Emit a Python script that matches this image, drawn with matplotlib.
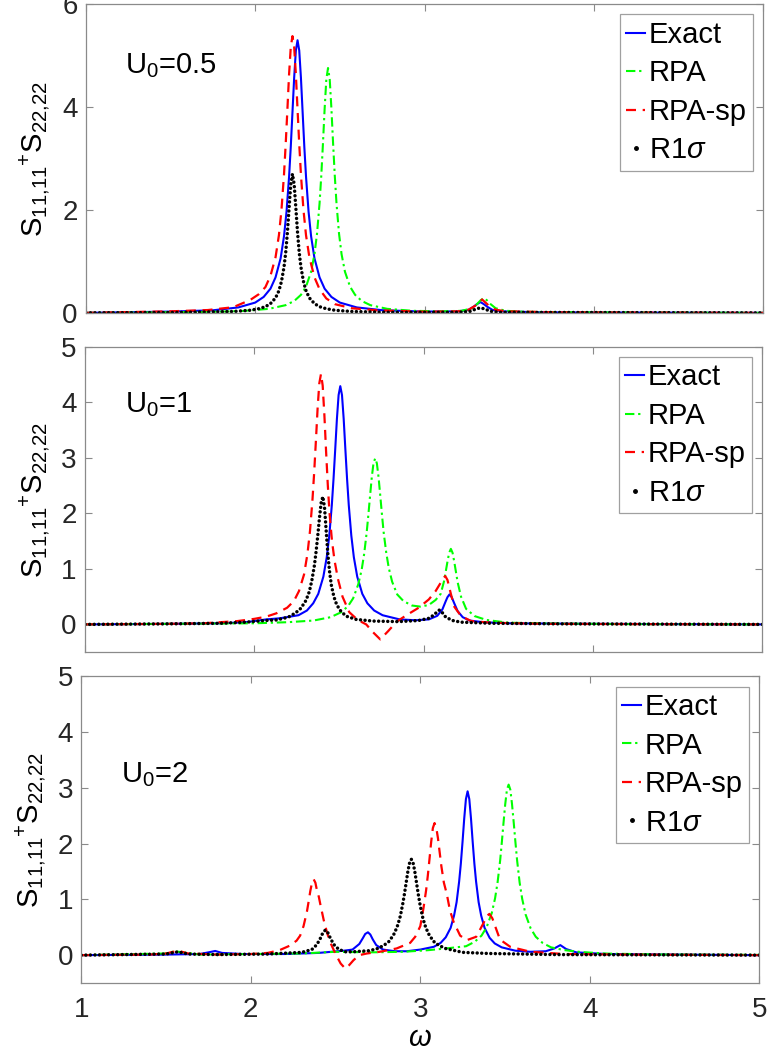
import matplotlib
matplotlib.use('Agg')
import matplotlib.pyplot as plt
from matplotlib.lines import Line2D

plt.rcParams['font.family'] = ['Liberation Sans', 'DejaVu Sans']
plt.rcParams['mathtext.fontset'] = 'custom'
plt.rcParams['mathtext.rm'] = 'Liberation Sans'
plt.rcParams['mathtext.it'] = 'Liberation Sans:italic'

labels = ['Exact', 'RPA', 'RPA-sp', r'R1$\sigma$']
panel_titles = [r'U$_0$=0.5', r'U$_0$=1', r'U$_0$=2']
ylabel = r'S$_{11{,}11}$$^{+}$S$_{22{,}22}$'

# ---- U0 = 0.5 ----
w_exact_1 = [1.0, 1.5, 1.75, 1.9, 2.0, 2.05, 2.09, 2.12, 2.15, 2.17, 2.185, 2.2, 2.21, 2.22, 2.23, 2.24, 2.25, 2.26,
             2.27, 2.28, 2.29, 2.3, 2.315, 2.33, 2.35, 2.38, 2.41, 2.45, 2.5, 2.6, 2.75, 3.0, 3.2, 3.26, 3.29, 3.31,
             3.33, 3.35, 3.37, 3.4, 3.46, 3.7, 5.0]
s_exact_1 = [0.0, 0.025, 0.05, 0.106, 0.2, 0.31, 0.47, 0.69, 1.06, 1.49, 1.97, 2.65, 3.23, 3.9, 4.57, 5.1, 5.3, 5.1,
             4.57, 3.9, 3.23, 2.65, 1.97, 1.49, 1.06, 0.69, 0.47, 0.31, 0.2, 0.106, 0.052, 0.025, 0.03, 0.06, 0.12, 0.17,
             0.21, 0.17, 0.12, 0.06, 0.03, 0.01, 0.0]
w_rpa_1 = [1.0, 1.5, 1.8, 1.93, 2.08, 2.18, 2.23, 2.27, 2.3, 2.33, 2.35, 2.365, 2.38, 2.39, 2.4, 2.41, 2.42, 2.43, 2.44,
           2.45, 2.46, 2.47, 2.48, 2.495, 2.51, 2.53, 2.56, 2.59, 2.63, 2.68, 2.78, 2.93, 3.1, 3.22, 3.28, 3.31, 3.33,
           3.35, 3.37, 3.39, 3.42, 3.48, 3.6, 4.0, 5.0]
s_rpa_1 = [0.0, 0.012, 0.024, 0.038, 0.078, 0.15, 0.23, 0.35, 0.51, 0.8, 1.14, 1.54, 2.13, 2.66, 3.29, 3.97, 4.54, 4.76,
           4.54, 3.97, 3.29, 2.66, 2.13, 1.54, 1.14, 0.8, 0.51, 0.35, 0.23, 0.15, 0.078, 0.04, 0.03, 0.04, 0.09, 0.17,
           0.24, 0.29, 0.24, 0.17, 0.09, 0.04, 0.02, 0.01, 0.0]
w_rpasp_1 = [1.0, 1.5, 1.72, 1.87, 1.97, 2.02, 2.06, 2.09, 2.12, 2.14, 2.155, 2.17, 2.18, 2.19, 2.2, 2.21, 2.22, 2.23,
             2.24, 2.25, 2.26, 2.27, 2.285, 2.3, 2.32, 2.35, 2.38, 2.42, 2.47, 2.57, 2.72, 3.0, 3.2, 3.26, 3.3, 3.32,
             3.34, 3.36, 3.38, 3.42, 3.48, 3.8, 5.0]
s_rpasp_1 = [0.0, 0.03, 0.055, 0.11, 0.25, 0.36, 0.5, 0.72, 1.08, 1.51, 2.0, 2.69, 3.28, 3.95, 4.64, 5.17, 5.38, 5.17,
             4.64, 3.95, 3.28, 2.69, 2.0, 1.51, 1.08, 0.69, 0.46, 0.28, 0.17, 0.09, 0.05, 0.022, 0.03, 0.06, 0.14, 0.2,
             0.26, 0.2, 0.14, 0.06, 0.03, 0.01, 0.0]
w_r1s_1 = [1.0, 1.5, 1.87, 1.97, 2.02, 2.06, 2.09, 2.12, 2.14, 2.155, 2.17, 2.18, 2.19, 2.2, 2.21, 2.22, 2.23, 2.24,
           2.25, 2.26, 2.27, 2.285, 2.3, 2.32, 2.35, 2.38, 2.42, 2.47, 2.57, 2.8, 3.2, 3.27, 3.3, 3.33, 3.36, 3.39,
           3.45, 5.0]
s_r1s_1 = [0.0, 0.006, 0.027, 0.051, 0.08, 0.12, 0.18, 0.29, 0.43, 0.61, 0.89, 1.17, 1.56, 2.04, 2.5, 2.7, 2.5, 2.04,
           1.56, 1.17, 0.89, 0.61, 0.43, 0.29, 0.18, 0.12, 0.08, 0.051, 0.027, 0.01, 0.01, 0.03, 0.07, 0.1, 0.07, 0.03,
           0.01, 0.0]

# ---- U0 = 1 ----
w_exact_2 = [1.0, 1.5, 1.8, 1.95, 2.07, 2.15, 2.26, 2.31, 2.347, 2.377, 2.407, 2.427, 2.442, 2.457, 2.467, 2.477, 2.487,
             2.497, 2.507, 2.517, 2.527, 2.537, 2.547, 2.557, 2.572, 2.587, 2.607, 2.637, 2.667, 2.707, 2.757, 2.857,
             2.95, 3.03, 3.08, 3.11, 3.13, 3.14, 3.152, 3.165, 3.18, 3.2, 3.23, 3.27, 3.35, 3.5, 4.0, 5.0]
s_exact_2 = [0.0, 0.01, 0.02, 0.04, 0.09, 0.11, 0.165, 0.25, 0.38, 0.55, 0.86, 1.21, 1.6, 2.15, 2.62, 3.15, 3.7, 4.13,
             4.29, 4.13, 3.7, 3.15, 2.62, 2.15, 1.6, 1.21, 0.86, 0.55, 0.38, 0.25, 0.165, 0.09, 0.075, 0.09, 0.155,
             0.27, 0.42, 0.49, 0.54, 0.49, 0.38, 0.24, 0.13, 0.07, 0.04, 0.02, 0.01, 0.0]
w_rpa_2 = [1.0, 1.5, 2.0, 2.2, 2.35, 2.45, 2.513, 2.553, 2.583, 2.613, 2.633, 2.648, 2.663, 2.673, 2.683, 2.693, 2.703,
           2.713, 2.723, 2.733, 2.743, 2.753, 2.763, 2.778, 2.793, 2.813, 2.843, 2.88, 2.93, 2.98, 3.03, 3.07, 3.1,
           3.12, 3.14, 3.15, 3.16, 3.17, 3.18, 3.2, 3.22, 3.25, 3.3, 3.37, 3.5, 3.8, 4.2, 5.0]
s_rpa_2 = [0.0, 0.01, 0.02, 0.04, 0.07, 0.13, 0.22, 0.33, 0.47, 0.72, 0.98, 1.27, 1.66, 1.98, 2.32, 2.65, 2.9, 2.99,
           2.9, 2.65, 2.32, 1.98, 1.66, 1.3, 1.02, 0.77, 0.54, 0.42, 0.34, 0.32, 0.35, 0.44, 0.55, 0.78, 1.13, 1.29,
           1.36, 1.29, 1.13, 0.76, 0.5, 0.28, 0.15, 0.08, 0.03, 0.015, 0.005, 0.0]
w_rpasp_2 = [1.0, 1.5, 1.7, 1.9, 2.0, 2.07, 2.13, 2.193, 2.233, 2.263, 2.293, 2.313, 2.328, 2.343, 2.353, 2.363, 2.373,
             2.383, 2.393, 2.403, 2.413, 2.423, 2.433, 2.443, 2.458, 2.473, 2.493, 2.52, 2.56, 2.61, 2.66, 2.7, 2.743,
             2.79, 2.84, 2.9, 2.97, 3.03, 3.07, 3.1, 3.115, 3.127, 3.14, 3.16, 3.18, 3.22, 3.28, 3.4, 3.7, 5.0]
s_rpasp_2 = [0.0, 0.01, 0.02, 0.06, 0.1, 0.14, 0.2, 0.3, 0.42, 0.6, 0.9, 1.27, 1.68, 2.26, 2.75, 3.31, 3.89, 4.34,
             4.51, 4.3, 3.77, 3.12, 2.52, 2.02, 1.5, 1.15, 0.82, 0.5, 0.22, 0.08, 0.0, -0.14, -0.27, -0.12, 0.05,
             0.17, 0.3, 0.45, 0.6, 0.75, 0.83, 0.87, 0.8, 0.55, 0.32, 0.15, 0.06, 0.03, 0.01, 0.0]
w_r1s_2 = [1.0, 1.5, 1.8, 1.95, 2.06, 2.13, 2.2, 2.244, 2.274, 2.304, 2.324, 2.339, 2.354, 2.364, 2.374, 2.384, 2.394,
           2.404, 2.414, 2.424, 2.434, 2.444, 2.454, 2.469, 2.484, 2.504, 2.54, 2.6, 2.7, 2.85, 2.97, 3.03, 3.06, 3.08,
           3.093, 3.11, 3.13, 3.17, 3.22, 3.4, 3.8, 5.0]
s_r1s_2 = [0.0, 0.01, 0.02, 0.04, 0.07, 0.08, 0.13, 0.21, 0.29, 0.43, 0.59, 0.79, 1.06, 1.31, 1.6, 1.92, 2.19, 2.3,
           2.1, 1.67, 1.25, 0.94, 0.71, 0.5, 0.37, 0.26, 0.15, 0.09, 0.06, 0.05, 0.07, 0.11, 0.17, 0.23, 0.26, 0.21,
           0.13, 0.07, 0.04, 0.02, 0.01, 0.0]

# ---- U0 = 2 ----
w_exact_3 = [1.0, 1.5, 1.7, 1.75, 1.79, 1.83, 1.95, 2.2, 2.4, 2.55, 2.6, 2.64, 2.66, 2.675, 2.691, 2.705, 2.72, 2.74,
             2.78, 2.85, 2.92, 3.0, 3.08, 3.12, 3.15, 3.179, 3.199, 3.214, 3.229, 3.239, 3.249, 3.259, 3.269, 3.279,
             3.289, 3.299, 3.309, 3.319, 3.329, 3.344, 3.359, 3.379, 3.409, 3.439, 3.48, 3.56, 3.65, 3.74, 3.79,
             3.826, 3.86, 3.92, 4.1, 4.5, 5.0]
s_exact_3 = [0.0, 0.01, 0.02, 0.05, 0.075, 0.04, 0.02, 0.02, 0.04, 0.08, 0.1, 0.2, 0.3, 0.38, 0.41, 0.37, 0.28, 0.18,
             0.1, 0.07, 0.07, 0.1, 0.15, 0.22, 0.32, 0.49, 0.71, 0.95, 1.32, 1.64, 2.03, 2.45, 2.8, 2.94, 2.8, 2.45,
             2.03, 1.64, 1.32, 0.95, 0.71, 0.49, 0.31, 0.21, 0.14, 0.08, 0.06, 0.07, 0.12, 0.18, 0.11, 0.05, 0.02, 0.01,
             0.0]
w_rpa_3 = [1.0, 1.5, 1.55, 1.6, 1.7, 2.0, 2.3, 2.5, 2.7, 2.9, 3.05, 3.15, 3.27, 3.321, 3.361, 3.391, 3.421, 3.441,
           3.456, 3.471, 3.481, 3.491, 3.501, 3.511, 3.521, 3.531, 3.541, 3.551, 3.561, 3.571, 3.586, 3.601, 3.621,
           3.651, 3.681, 3.721, 3.771, 3.85, 3.95, 4.1, 4.4, 5.0]
s_rpa_3 = [0.0, 0.03, 0.07, 0.05, 0.01, 0.02, 0.03, 0.06, 0.05, 0.06, 0.09, 0.12, 0.16, 0.24, 0.35, 0.5, 0.75, 1.02,
           1.31, 1.7, 2.03, 2.38, 2.71, 2.97, 3.06, 2.97, 2.71, 2.38, 2.03, 1.7, 1.3, 1.01, 0.73, 0.48, 0.33, 0.22,
           0.14, 0.09, 0.055, 0.028, 0.012, 0.005]
w_rpasp_3 = [1.0, 1.4, 1.5, 1.57, 1.63, 1.8, 2.0, 2.1, 2.17, 2.23, 2.27, 2.291, 2.311, 2.331, 2.341, 2.351, 2.361,
             2.371, 2.381, 2.391, 2.401, 2.411, 2.43, 2.45, 2.47, 2.5, 2.53, 2.557, 2.58, 2.606, 2.64, 2.685, 2.76,
             2.86, 2.94, 2.97, 3.0, 3.019, 3.034, 3.044, 3.054, 3.064, 3.074, 3.084, 3.094, 3.104, 3.114, 3.124,
             3.139, 3.156, 3.175, 3.196, 3.235, 3.275, 3.33, 3.37, 3.395, 3.408, 3.425, 3.445, 3.47, 3.53, 3.65,
             3.85, 4.2, 5.0]
s_rpasp_3 = [0.0, 0.01, 0.03, 0.08, 0.03, 0.01, 0.02, 0.04, 0.09, 0.17, 0.26, 0.35, 0.52, 0.78, 0.96, 1.15, 1.3,
             1.36, 1.3, 1.15, 1.05, 0.9, 0.63, 0.4, 0.22, 0.02, -0.15, -0.24, -0.18, -0.09, 0.0, 0.03, 0.06, 0.12,
             0.22, 0.33, 0.52, 0.85, 1.16, 1.42, 1.72, 2.03, 2.28, 2.37, 2.29, 2.1, 1.85, 1.6, 1.3, 1.1, 0.8, 0.6,
             0.35, 0.27, 0.33, 0.56, 0.71, 0.74, 0.66, 0.49, 0.28, 0.15, 0.06, 0.02, 0.01, 0.0]
w_r1s_3 = [1.0, 1.5, 1.57, 1.63, 1.8, 2.1, 2.3, 2.36, 2.39, 2.41, 2.425, 2.44, 2.455, 2.47, 2.49, 2.52, 2.56, 2.6, 2.7,
           2.75, 2.787, 2.817, 2.847, 2.867, 2.882, 2.897, 2.907, 2.917, 2.927, 2.937, 2.947, 2.957, 2.967, 2.977,
           2.987, 2.997, 3.012, 3.027, 3.047, 3.077, 3.107, 3.147, 3.25, 3.4, 3.8, 5.0]
s_r1s_3 = [0.0, 0.02, 0.06, 0.02, 0.01, 0.02, 0.05, 0.1, 0.19, 0.3, 0.4, 0.45, 0.4, 0.3, 0.19, 0.1, 0.06, 0.06, 0.08,
           0.12, 0.18, 0.25, 0.39, 0.54, 0.7, 0.93, 1.11, 1.31, 1.51, 1.66, 1.72, 1.66, 1.51, 1.31, 1.11, 0.93, 0.7,
           0.54, 0.39, 0.25, 0.18, 0.12, 0.05, 0.03, 0.01, 0.0]

panels = [
    [(w_exact_1, s_exact_1), (w_rpa_1, s_rpa_1), (w_rpasp_1, s_rpasp_1), (w_r1s_1, s_r1s_1)],
    [(w_exact_2, s_exact_2), (w_rpa_2, s_rpa_2), (w_rpasp_2, s_rpasp_2), (w_r1s_2, s_r1s_2)],
    [(w_exact_3, s_exact_3), (w_rpa_3, s_rpa_3), (w_rpasp_3, s_rpasp_3), (w_r1s_3, s_r1s_3)],
]

# axes boxes in figure fraction [left, bottom, width, height]
boxes = [[0.112, 0.704, 0.883, 0.292],
         [0.111, 0.383, 0.883, 0.289],
         [0.106, 0.070, 0.884, 0.290]]
ylims = [(0, 6), (-0.5, 5), (-0.5, 5)]
yticks = [[0, 2, 4, 6], [0, 1, 2, 3, 4, 5], [0, 1, 2, 3, 4, 5]]
title_pos = [(0.058, 0.777), (0.059, 0.784), (0.059, 0.655)]

styles = [dict(color='#0000ff', ls='-', lw=1.5),
          dict(color='#00ff00', ls=(0, (4.5, 1.8, 1.1, 1.8)), lw=1.5),
          dict(color='#ff0000', ls=(0, (4.5, 3)), lw=1.6),
          dict(color='black', ls=(0, (0.01, 1.3)), lw=2.5, dash_capstyle='round')]

fig = plt.figure(figsize=(7.67, 10.57), dpi=100)
axis_gray = '#8a8a8a'

for i in range(3):
    ax = fig.add_axes(boxes[i])
    handles = []
    for (w, s), st in zip(panels[i], styles):
        ln, = ax.plot(w, s, **st)
        handles.append(ln)
    # legend shows a single dot for the dotted series
    handles[3] = Line2D([], [], color='black', marker='.', ls='none', markersize=5)
    ax.set_xlim(1, 5)
    ax.set_ylim(*ylims[i])
    ax.set_yticks(yticks[i])
    ax.set_xticks([1, 2, 3, 4, 5])
    ax.tick_params(direction='in', top=True, right=True, length=5, width=0.8,
                   color=axis_gray, labelsize=20, labelcolor='#262626')
    ax.tick_params(axis='x', pad=10)
    ax.tick_params(axis='y', pad=6)
    for sp in ax.spines.values():
        sp.set_color(axis_gray)
        sp.set_linewidth(0.9)
    if i < 2:
        ax.tick_params(labelbottom=False)
    ax.set_ylabel(ylabel, fontsize=21, labelpad=7)
    ax.text(title_pos[i][0], title_pos[i][1], panel_titles[i], transform=ax.transAxes,
            fontsize=21, ha='left', va='baseline')
    leg = ax.legend(handles, labels, loc='upper right', fontsize=21, handlelength=0.65,
                    handletextpad=0.12, labelspacing=0.36, borderpad=0.22, borderaxespad=0.35,
                    fancybox=False, framealpha=1, edgecolor='#a0a0a0')
    leg.get_frame().set_linewidth(0.9)

ax.set_xlabel(r'$\omega$', fontsize=21, labelpad=1)

fig.savefig('out.png', dpi=100)
